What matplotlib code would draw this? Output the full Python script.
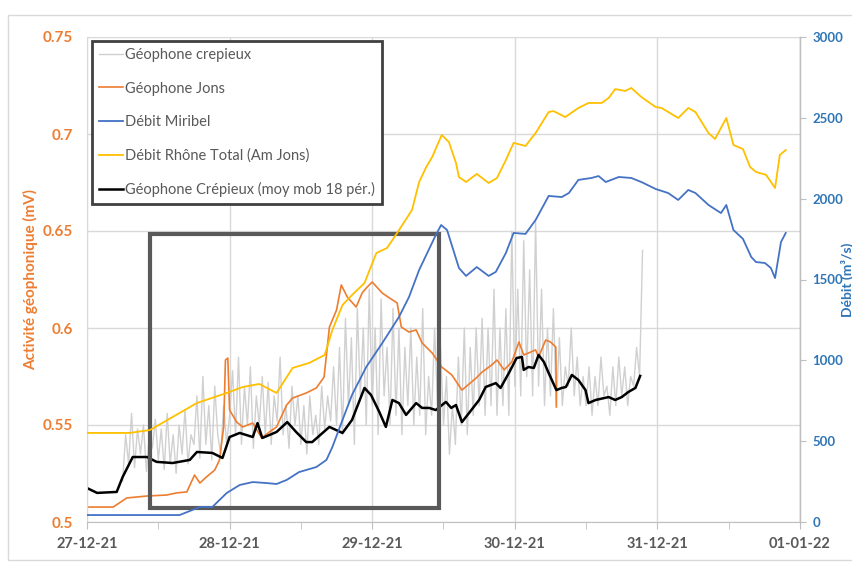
import matplotlib
matplotlib.use("Agg")
import matplotlib.pyplot as plt
from matplotlib.patches import Rectangle

plt.rcParams['font.family'] = ['Lato', 'DejaVu Sans']

# hours since 27-12-21 00:00
day_labels = ["27-12-21", "28-12-21", "29-12-21", "30-12-21", "31-12-21", "01-01-22"]

# Géophone crepieux (raw, 30 min steps from 06:00 on 27-12)
crep_start = 6.0
crep_step = 0.5
crep_vals = [
    0.521, 0.545, 0.530, 0.556, 0.528, 0.548, 0.535, 0.550, 0.526, 0.545, 0.538, 0.553,
    0.532, 0.548, 0.527, 0.556, 0.530, 0.545, 0.525, 0.550, 0.535, 0.558, 0.530, 0.545,
    0.540, 0.565, 0.533, 0.575, 0.540, 0.560, 0.532, 0.570, 0.545, 0.535, 0.560, 0.540,
    0.555, 0.578, 0.545, 0.585, 0.540, 0.570, 0.550, 0.580, 0.538, 0.565, 0.550, 0.575,
    0.545, 0.572, 0.540, 0.565, 0.552, 0.585, 0.545, 0.560, 0.538, 0.570, 0.550, 0.565,
    0.540, 0.560, 0.535, 0.565, 0.545, 0.555, 0.540, 0.570, 0.548, 0.565, 0.552, 0.580,
    0.550, 0.590, 0.545, 0.605, 0.560, 0.595, 0.540, 0.610, 0.565, 0.600, 0.550, 0.620,
    0.560, 0.600, 0.545, 0.615, 0.565, 0.590, 0.550, 0.610, 0.555, 0.600, 0.545, 0.590,
    0.560, 0.600, 0.550, 0.585, 0.555, 0.610, 0.545, 0.575, 0.555, 0.600, 0.560, 0.590,
    0.550, 0.575, 0.535, 0.560, 0.540, 0.585, 0.550, 0.600, 0.545, 0.590, 0.555, 0.600,
    0.560, 0.605, 0.555, 0.600, 0.560, 0.620, 0.555, 0.600, 0.560, 0.610, 0.555, 0.650,
    0.570, 0.620, 0.565, 0.645, 0.575, 0.630, 0.565, 0.655, 0.570, 0.620, 0.560, 0.600,
    0.565, 0.610, 0.560, 0.595, 0.560, 0.580, 0.570, 0.600, 0.565, 0.585, 0.560, 0.575,
    0.560, 0.580, 0.555, 0.575, 0.560, 0.585, 0.565, 0.570, 0.555, 0.580, 0.560, 0.585,
    0.565, 0.580, 0.560, 0.575, 0.570, 0.590, 0.575, 0.640,
]
crep_t = [crep_start + i * crep_step for i in range(len(crep_vals))]

# Géophone Jons
jons_t = [0, 4.4, 6.7, 10.1, 13.4, 15.1, 16.8, 18.1, 19.0, 20.1, 21.5, 22.3, 23.0, 23.3,
          23.7, 24.0, 25.2, 26.2, 27.9, 29.4, 30.7, 31.9, 33.6, 34.6, 36.9, 38.6, 39.9,
          40.8, 42.0, 42.8, 43.8, 45.3, 46.3, 47.0, 48.0, 49.7, 50.9, 52.2, 52.9, 54.2,
          55.4, 56.4, 58.1, 59.7, 61.4, 63.1, 64.3, 65.5, 66.5, 68.1, 69.0, 70.2, 71.5,
          72.7, 73.5, 74.3, 75.5, 76.0, 77.2, 78.0, 78.9, 79.0]
jons_v = [0.5077, 0.5077, 0.5124, 0.5134, 0.5139, 0.515, 0.5155, 0.5242, 0.5201, 0.5232,
          0.5268, 0.532, 0.549, 0.5835, 0.5845, 0.5577, 0.5515, 0.549, 0.551, 0.5433,
          0.5464, 0.549, 0.5603, 0.5639, 0.5665, 0.5691, 0.5747, 0.6005, 0.6093, 0.6222,
          0.616, 0.6108, 0.618, 0.6206, 0.6237, 0.618, 0.6155, 0.6129, 0.6005, 0.5979,
          0.599, 0.5923, 0.5871, 0.5799, 0.5758, 0.568, 0.5711, 0.5742, 0.5773, 0.5809,
          0.5835, 0.5784, 0.5825, 0.5928, 0.5861, 0.5871, 0.5887, 0.585, 0.5938, 0.5928,
          0.5902, 0.5593]

# Débit Miribel (m3/s)
mir_t = [0, 15.6, 19.0, 21.1, 23.5, 25.7, 27.9, 30.2, 31.9, 33.6, 35.7, 38.6, 40.3, 41.3,
         43.0, 44.6, 47.0, 49.7, 52.5, 54.2, 55.9, 58.7, 59.6, 60.6, 62.6, 63.8, 65.6,
         67.6, 68.8, 70.5, 71.8, 73.8, 75.5, 77.7, 79.9, 81.1, 82.7, 84.9, 86.1, 87.3,
         89.5, 91.6, 93.3, 95.7, 97.8, 99.5, 101.2, 102.4, 104.6, 106.7, 107.6, 108.8,
         110.4, 111.8, 112.6, 114.1, 115.1, 115.8, 116.8, 117.6]
mir_q = [43, 43, 93, 93, 179, 229, 247, 241, 235, 260, 309, 340, 384, 464, 631, 786, 959,
         1107, 1268, 1392, 1559, 1775, 1837, 1806, 1571, 1522, 1577, 1522, 1547, 1664,
         1788, 1782, 1868, 2017, 2010, 2035, 2116, 2128, 2140, 2103, 2134, 2128, 2103,
         2060, 2035, 1992, 2054, 2035, 1961, 1911, 1961, 1806, 1751, 1639, 1608, 1602,
         1571, 1509, 1732, 1788]

# Débit Rhône Total (Am Jons)
rho_t = [0, 7.2, 10.6, 18.5, 23.5, 26.2, 29.0, 31.9, 34.6, 37.4, 40.0, 41.3, 43.0, 44.6,
         46.7, 48.7, 50.5, 52.2, 54.7, 55.9, 57.1, 58.1, 59.7, 60.9, 62.1, 62.6, 63.8,
         65.6, 67.6, 69.0, 70.5, 71.8, 73.8, 75.5, 77.7, 78.5, 80.5, 82.7, 84.4, 86.6,
         87.8, 88.9, 90.6, 91.6, 93.3, 95.7, 96.7, 99.5, 101.2, 102.4, 104.6, 105.7,
         107.6, 108.8, 110.4, 111.6, 112.6, 114.3, 115.8, 116.6, 117.6]
rho_q = [551, 551, 569, 736, 798, 835, 854, 798, 953, 984, 1033, 1188, 1342, 1404, 1478,
         1664, 1695, 1788, 1930, 2103, 2196, 2258, 2394, 2351, 2221, 2134, 2103, 2153,
         2097, 2128, 2239, 2345, 2326, 2406, 2536, 2542, 2505, 2561, 2592, 2592, 2623,
         2678, 2666, 2685, 2629, 2567, 2561, 2499, 2561, 2536, 2406, 2369, 2499, 2332,
         2307, 2196, 2165, 2147, 2066, 2270, 2301]

# Géophone Crépieux (moy mob 18 pér.)
mob_t = [0, 1.7, 5.0, 6.0, 7.7, 10.1, 11.7, 14.4, 17.3, 18.5, 21.1, 22.8, 24.0, 25.7,
         27.9, 28.7, 29.5, 31.9, 33.7, 35.2, 36.9, 37.9, 40.8, 43.0, 44.6, 46.7, 47.8,
         49.2, 50.3, 51.4, 52.5, 53.7, 55.4, 56.4, 57.6, 58.7, 60.4, 61.3, 62.1, 63.1,
         64.3, 66.0, 67.1, 68.8, 69.6, 71.0, 72.3, 73.2, 73.5, 74.3, 75.2, 76.0, 76.9,
         77.7, 79.0, 79.9, 80.6, 81.6, 82.7, 83.9, 84.4, 85.6, 87.8, 88.9, 90.0, 91.1,
         92.3, 93.1]
mob_v = [0.5175, 0.515, 0.5155, 0.5232, 0.5335, 0.5335, 0.531, 0.5304, 0.532, 0.5361,
         0.5356, 0.533, 0.5438, 0.5459, 0.5438, 0.551, 0.5433, 0.5464, 0.5515, 0.5464,
         0.5412, 0.5412, 0.549, 0.5459, 0.5526, 0.5691, 0.5655, 0.5567, 0.549, 0.5629,
         0.5613, 0.5552, 0.5613, 0.5588, 0.5588, 0.5577, 0.5619, 0.5588, 0.5603, 0.5515,
         0.5562, 0.5629, 0.5696, 0.5716, 0.5691, 0.5768, 0.5845, 0.5851, 0.5784, 0.5799,
         0.5794, 0.5861, 0.5825, 0.5768, 0.568, 0.5691, 0.5696, 0.5758, 0.5732, 0.568,
         0.5613, 0.5629, 0.5644, 0.5629, 0.5644, 0.567, 0.5691, 0.5753]

# highlighted window
box_t = (10.6, 59.2)
box_v = (0.5072, 0.6485)

orange = '#ED7D31'
blue = '#2E75B6'
txt_gray = '#595959'

fig = plt.figure(figsize=(8.53, 5.65), dpi=100)
fig.patches.append(Rectangle((8 / 853, 5 / 565), 1, 545 / 565, transform=fig.transFigure,
                             fill=False, edgecolor='#d9d9d9', linewidth=1))
ax = fig.add_axes([87 / 853, 43 / 565, 713 / 853, 485 / 565])
ax2 = ax.twinx()

l1, = ax.plot(crep_t, crep_vals, color='#d0d0d0', lw=1.0, label='Géophone crepieux')
l2, = ax.plot(jons_t, jons_v, color=orange, lw=1.2, label='Géophone Jons')
l5, = ax.plot(mob_t, mob_v, color='black', lw=1.8, label='Géophone Crépieux (moy mob 18 pér.)')
l3, = ax2.plot(mir_t, mir_q, color='#4472C4', lw=1.3, label='Débit Miribel')
l4, = ax2.plot(rho_t, rho_q, color='#FFC000', lw=1.3, label='Débit Rhône Total (Am Jons)')

ax.add_patch(Rectangle((box_t[0], box_v[0]), box_t[1] - box_t[0], box_v[1] - box_v[0],
                       fill=False, edgecolor='#595959', linewidth=3, zorder=5))

ax.set_xlim(0, 120)
ax.set_ylim(0.5, 0.75)
ax2.set_ylim(0, 3000)
ax.set_xticks([i * 24 for i in range(len(day_labels))])
ax.set_xticklabels(day_labels)
ax.set_xticks([12 + i * 24 for i in range(5)], minor=True)
ax.set_yticks([0.5, 0.55, 0.6, 0.65, 0.7, 0.75])
ax.set_yticklabels(['0.5', '0.55', '0.6', '0.65', '0.7', '0.75'])
ax2.set_yticks(range(0, 3001, 500))

ax.grid(True, which='major', color='#d9d9d9', lw=1)
ax.set_axisbelow(True)
ax.spines['top'].set_visible(False)
ax2.spines['top'].set_visible(False)
ax.spines['left'].set_color('#d9d9d9')
ax.spines['bottom'].set_color('#bfbfbf')
ax2.spines['left'].set_visible(False)
ax2.spines['bottom'].set_visible(False)
ax2.spines['right'].set_color('#bfbfbf')

ax.tick_params(axis='x', which='both', colors='#bfbfbf', length=5, labelcolor=txt_gray,
               labelsize=10.5, pad=6)
ax.tick_params(axis='y', length=0, labelcolor=orange, labelsize=11, pad=10)
ax2.tick_params(axis='y', colors='#bfbfbf', length=4, labelcolor=blue, labelsize=9.5, pad=5)
for lab in ax.get_xticklabels() + ax.get_yticklabels():
    lab.set_fontweight('bold')
for lab in ax2.get_yticklabels():
    lab.set_fontweight('bold')

ax.set_ylabel('Activité géophonique (mV)', color=orange, fontsize=11, fontweight='bold')
ax.yaxis.set_label_coords(-0.068, 0.5)
ax2.set_ylabel('Débit (m³/s)', color=blue, fontsize=10, fontweight='bold')
ax2.yaxis.set_label_coords(1.058, 0.5)

leg = ax2.legend(handles=[l1, l2, l3, l4, l5], loc='upper left',
                 bbox_to_anchor=(0.007, 0.992), frameon=True, fancybox=False,
                 fontsize=10.5, labelspacing=1.33, handlelength=1.6, handletextpad=0.15,
                 borderpad=0.5, borderaxespad=0)
leg.get_frame().set_edgecolor('#404040')
leg.get_frame().set_linewidth(2)
leg.get_frame().set_alpha(1)
for t in leg.get_texts():
    t.set_color(txt_gray)
leg.set_zorder(10)

fig.savefig('out.png', dpi=100)
